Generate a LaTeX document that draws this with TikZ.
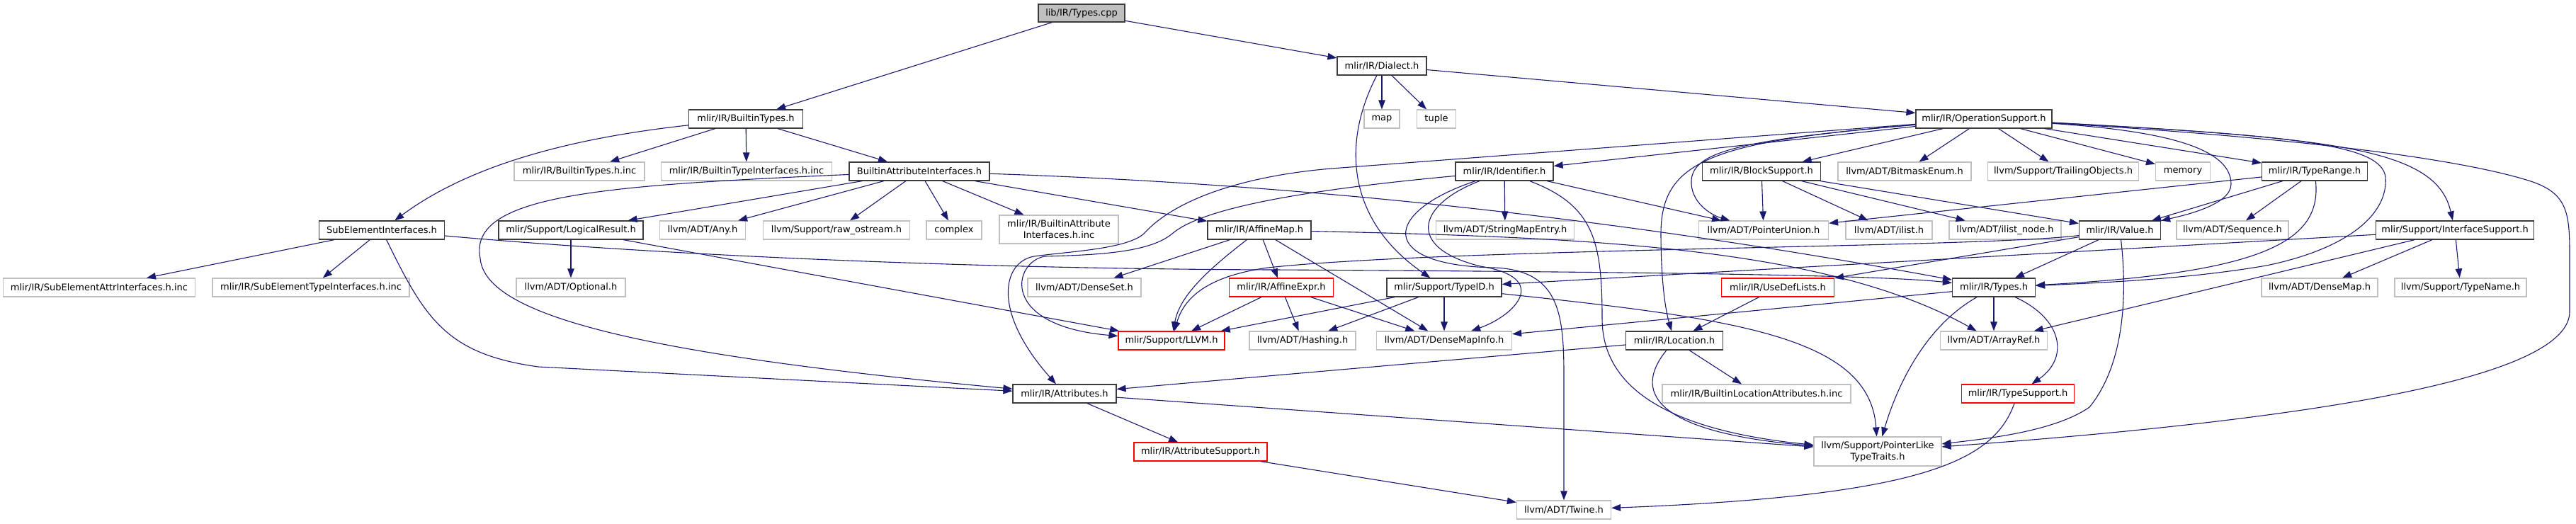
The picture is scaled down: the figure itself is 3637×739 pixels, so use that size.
\documentclass[tikz,border=0pt]{standalone}
\usepackage{fontspec}
\newfontfamily\dvsans{DejaVu Sans}
\usetikzlibrary{arrows.meta}
\definecolor{edgeblue}{RGB}{25,25,112}
\definecolor{extgray}{RGB}{191,191,191}
\definecolor{docgray}{RGB}{60,60,60}
\newcommand{\hdrfont}{\dvsans\fontsize{13}{16}\selectfont}

\begin{document}
\begin{tikzpicture}[x=1pt,y=-1pt,
  hdr/.style={draw=docgray, line width=1.2pt, fill=white, font=\hdrfont, minimum height=26pt, inner xsep=2pt, inner ysep=1pt, align=center},
  ext/.style={hdr, draw=extgray},
  trunc/.style={hdr, draw=red},
  rootfile/.style={hdr, fill=extgray},
  dep/.style={draw=edgeblue, line width=1.1pt, -{Triangle[length=13pt,width=9.5pt]}}]
\useasboundingbox (0,0) rectangle (3637,739);
% Top of the graph
\node[rootfile, minimum width=122pt, minimum height=25pt] (root) at (1527,18.5) {lib/IR/Types.cpp};
\node[hdr, minimum width=126pt] (dialect) at (1951,93) {mlir/IR/Dialect.h};
\node[hdr, minimum width=161pt] (btypes) at (1053,168) {mlir/IR/BuiltinTypes.h};
\node[ext, minimum width=50pt] (map) at (1951,168) {map};
\node[ext, minimum width=55pt] (tuple) at (2028,168) {tuple};
\node[hdr, minimum width=192pt] (opsupp) at (2801,168) {mlir/IR/OperationSupport.h};
% Second row
\node[ext, minimum width=184pt] (btypesinc) at (818,242) {mlir/IR/BuiltinTypes.h.inc};
\node[ext, minimum width=241pt] (btinc) at (1054,242) {mlir/IR/BuiltinTypeInterfaces.h.inc};
\node[hdr, minimum width=198pt] (bai) at (1298,242) {BuiltinAttributeInterfaces.h};
\node[hdr, minimum width=138pt] (ident) at (2124,242) {mlir/IR/Identifier.h};
\node[hdr, minimum width=167pt] (blocks) at (2487,242) {mlir/IR/BlockSupport.h};
\node[ext, minimum width=188pt] (bitmask) at (2689,242) {llvm/ADT/BitmaskEnum.h};
\node[ext, minimum width=213pt] (trailing) at (2913,242) {llvm/Support/TrailingObjects.h};
\node[ext, minimum width=77pt] (memory) at (3082,242) {memory};
\node[hdr, minimum width=149pt] (typerange) at (3268,242) {mlir/IR/TypeRange.h};
% Third row
\node[hdr, minimum width=177pt] (subel) at (539,325) {SubElementInterfaces.h};
\node[hdr, minimum width=204pt] (logres) at (806,325) {mlir/Support/LogicalResult.h};
\node[ext, minimum width=121pt] (any) at (992,325) {llvm/ADT/Any.h};
\node[ext, minimum width=207pt] (rawos) at (1181,325) {llvm/Support/raw\_ostream.h};
\node[ext, minimum width=78pt] (complex) at (1347,325) {complex};
\node[ext, minimum width=168pt, minimum height=40pt] (baiinc) at (1495,324) {mlir/IR/BuiltinAttribute\\Interfaces.h.inc};
\node[hdr, minimum width=146pt] (affmap) at (1778,325) {mlir/IR/AffineMap.h};
\node[ext, minimum width=195pt] (strmap) at (2125,325) {llvm/ADT/StringMapEntry.h};
\node[ext, minimum width=183pt] (ptrunion) at (2490,325) {llvm/ADT/PointerUnion.h};
\node[ext, minimum width=122pt] (ilist) at (2667,325) {llvm/ADT/ilist.h};
\node[ext, minimum width=158pt] (ilistnode) at (2831,325) {llvm/ADT/ilist\_node.h};
\node[hdr, minimum width=115pt] (value) at (2993,325) {mlir/IR/Value.h};
\node[ext, minimum width=158pt] (sequence) at (3152,325) {llvm/ADT/Sequence.h};
\node[hdr, minimum width=223pt] (ifsupp) at (3466,325) {mlir/Support/InterfaceSupport.h};
% Fourth row
\node[ext, minimum width=271pt] (subattr) at (140,406) {mlir/IR/SubElementAttrInterfaces.h.inc};
\node[ext, minimum width=278pt] (subtype) at (439,406) {mlir/IR/SubElementTypeInterfaces.h.inc};
\node[ext, minimum width=154pt] (optional) at (806,406) {llvm/ADT/Optional.h};
\node[ext, minimum width=160pt] (denseset) at (1531,406) {llvm/ADT/DenseSet.h};
\node[trunc, minimum width=147pt] (affexpr) at (1809,406) {mlir/IR/AffineExpr.h};
\node[hdr, minimum width=162pt] (typeid) at (2039,406) {mlir/Support/TypeID.h};
\node[trunc, minimum width=159pt] (usedef) at (2510,406) {mlir/IR/UseDefLists.h};
\node[hdr, minimum width=117pt] (types) at (2815,406) {mlir/IR/Types.h};
\node[ext, minimum width=164pt] (densemap) at (3275,406) {llvm/ADT/DenseMap.h};
\node[ext, minimum width=186pt] (typename) at (3474,406) {llvm/Support/TypeName.h};
% Fifth row
\node[trunc, minimum width=150pt] (llvmh) at (1654,481) {mlir/Support/LLVM.h};
\node[ext, minimum width=150pt] (hashing) at (1839,481) {llvm/ADT/Hashing.h};
\node[ext, minimum width=191pt] (dmi) at (2039,481) {llvm/ADT/DenseMapInfo.h};
\node[hdr, minimum width=137pt] (location) at (2364,481) {mlir/IR/Location.h};
\node[ext, minimum width=151pt] (arrayref) at (2815,481) {llvm/ADT/ArrayRef.h};
% Bottom rows
\node[hdr, minimum width=146pt] (attrs) at (1503,556) {mlir/IR/Attributes.h};
\node[ext, minimum width=266pt] (bliinc) at (2480,556) {mlir/IR/BuiltinLocationAttributes.h.inc};
\node[trunc, minimum width=159pt] (typesupp) at (2849,556) {mlir/IR/TypeSupport.h};
\node[trunc, minimum width=188pt] (attrsupp) at (1695,638) {mlir/IR/AttributeSupport.h};
\node[ext, minimum width=180pt, minimum height=41pt] (ptrlike) at (2651,637.5) {llvm/Support/PointerLike\\TypeTraits.h};
\node[ext, minimum width=133pt] (twine) at (2208,720) {llvm/ADT/Twine.h};

% lib/IR/Types.cpp
\draw[dep] (root) -- (btypes);
\draw[dep] (root) -- (dialect);
% Dialect.h
\draw[dep] (dialect) -- (map);
\draw[dep] (dialect) -- (tuple);
\draw[dep] (dialect) -- (opsupp);
\draw[dep] (dialect) .. controls (1895,200) and (1900,310) .. (typeid);
% BuiltinTypes.h
\draw[dep] (btypes) .. controls (760,200) and (640,250) .. (subel);
\draw[dep] (btypes) -- (btypesinc);
\draw[dep] (btypes) -- (btinc);
\draw[dep] (btypes) -- (bai);
% SubElementInterfaces.h
\draw[dep] (subel) -- (subattr);
\draw[dep] (subel) -- (subtype);
\draw[dep] (subel) .. controls (600,450) and (630,500) .. (760,518) -- (attrs);
\draw[dep] (subel) .. controls (950,362) and (1400,380) .. (1800,381) .. controls (2300,384) and (2650,388) .. (types);
% LogicalResult.h
\draw[dep] (logres) -- (optional);
\draw[dep] (logres) -- (llvmh);
% BuiltinAttributeInterfaces.h
\draw[dep] (bai) -- (logres);
\draw[dep] (bai) -- (any);
\draw[dep] (bai) -- (rawos);
\draw[dep] (bai) -- (complex);
\draw[dep] (bai) -- (baiinc);
\draw[dep] (bai) -- (affmap);
\draw[dep] (bai) .. controls (850,262) and (660,275) .. (678,365) .. controls (685,445) and (900,500) .. (attrs);
\draw[dep] (bai) .. controls (1900,262) and (2350,320) .. (types);
% AffineMap.h
\draw[dep] (affmap) -- (denseset);
\draw[dep] (affmap) .. controls (1700,385) and (1665,420) .. (llvmh);
\draw[dep] (affmap) -- (affexpr);
\draw[dep] (affmap) -- (dmi);
\draw[dep] (affmap) .. controls (2250,335) and (2580,350) .. (arrayref);
% AffineExpr.h
\draw[dep] (affexpr) -- (llvmh);
\draw[dep] (affexpr) -- (hashing);
\draw[dep] (affexpr) -- (dmi);
% Identifier.h
\draw[dep] (ident) .. controls (1800,272) and (1690,300) .. (1655,330) .. controls (1625,355) and (1560,360) .. (1475,362) .. controls (1430,370) and (1410,460) .. (llvmh);
\draw[dep] (ident) .. controls (2000,290) and (1985,350) .. (2090,376) .. controls (2190,392) and (2140,445) .. (dmi);
\draw[dep] (ident) .. controls (1950,300) and (1945,375) .. (2110,378) .. controls (2200,382) and (2208,440) .. (2208,530) -- (twine);
\draw[dep] (ident) -- (strmap);
\draw[dep] (ident) -- (ptrunion);
\draw[dep] (ident) .. controls (2250,290) and (2262,340) .. (2262,450) .. controls (2262,560) and (2380,610) .. (ptrlike);
% OperationSupport.h
\draw[dep] (opsupp) -- (1880,238) .. controls (1760,248) and (1660,280) .. (1615,330) .. controls (1590,352) and (1510,355) .. (1460,362) .. controls (1415,370) and (1400,440) .. (attrs);
\draw[dep] (opsupp) -- (ident);
\draw[dep] (opsupp) .. controls (2420,200) and (2345,225) .. (2345,330) .. controls (2345,400) and (2352,440) .. (location);
\draw[dep] (opsupp) .. controls (2450,198) and (2385,215) .. (2388,260) .. controls (2390,290) and (2420,305) .. (ptrunion);
\draw[dep] (opsupp) -- (blocks);
\draw[dep] (opsupp) -- (bitmask);
\draw[dep] (opsupp) -- (trailing);
\draw[dep] (opsupp) -- (memory);
\draw[dep] (opsupp) -- (typerange);
\draw[dep] (opsupp) .. controls (3060,185) and (3150,210) .. (3150,260) .. controls (3150,290) and (3080,305) .. (value);
\draw[dep] (opsupp) .. controls (3250,192) and (3362,205) .. (3368,250) .. controls (3372,300) and (3320,350) .. (3200,375) .. controls (3100,392) and (3000,398) .. (types);
\draw[dep] (opsupp) .. controls (3300,195) and (3440,210) .. (ifsupp);
\draw[dep] (opsupp) .. controls (3300,198) and (3490,230) .. (3570,255) .. controls (3625,272) and (3628,300) .. (3628,360) -- (3628,440) .. controls (3628,530) and (3300,590) .. (ptrlike);
% BlockSupport.h
\draw[dep] (blocks) -- (ptrunion);
\draw[dep] (blocks) -- (ilist);
\draw[dep] (blocks) -- (ilistnode);
\draw[dep] (blocks) -- (value);
% TypeRange.h
\draw[dep] (typerange) -- (ptrunion);
\draw[dep] (typerange) -- (value);
\draw[dep] (typerange) -- (sequence);
\draw[dep] (typerange) .. controls (3278,340) and (3200,385) .. (types);
% Value.h
\draw[dep] (value) .. controls (2800,350) and (2050,350) .. (1790,378) .. controls (1705,390) and (1672,420) .. (llvmh);
\draw[dep] (value) -- (usedef);
\draw[dep] (value) -- (types);
\draw[dep] (value) .. controls (3005,430) and (2995,520) .. (2950,575) .. controls (2900,610) and (2800,620) .. (ptrlike);
% InterfaceSupport.h
\draw[dep] (ifsupp) -- (typeid);
\draw[dep] (ifsupp) -- (arrayref);
\draw[dep] (ifsupp) -- (densemap);
\draw[dep] (ifsupp) -- (typename);
% TypeID.h
\draw[dep] (typeid) -- (llvmh);
\draw[dep] (typeid) -- (hashing);
\draw[dep] (typeid) -- (dmi);
\draw[dep] (typeid) .. controls (2450,450) and (2640,475) .. (ptrlike);
% UseDefLists.h
\draw[dep] (usedef) -- (location);
% Location.h
\draw[dep] (location) -- (attrs);
\draw[dep] (location) -- (bliinc);
\draw[dep] (location) .. controls (2298,562) and (2355,612) .. (ptrlike);
% Attributes.h
\draw[dep] (attrs) -- (attrsupp);
\draw[dep] (attrs) -- (ptrlike);
% AttributeSupport.h and TypeSupport.h
\draw[dep] (attrsupp) -- (twine);
\draw[dep] (typesupp) .. controls (2815,650) and (2720,700) .. (twine);
% Types.h
\draw[dep] (types) .. controls (2912,450) and (2922,505) .. (typesupp);
\draw[dep] (types) -- (arrayref);
\draw[dep] (types) -- (dmi);
\draw[dep] (types) .. controls (2720,460) and (2680,540) .. (ptrlike);
\end{tikzpicture}
\end{document}
